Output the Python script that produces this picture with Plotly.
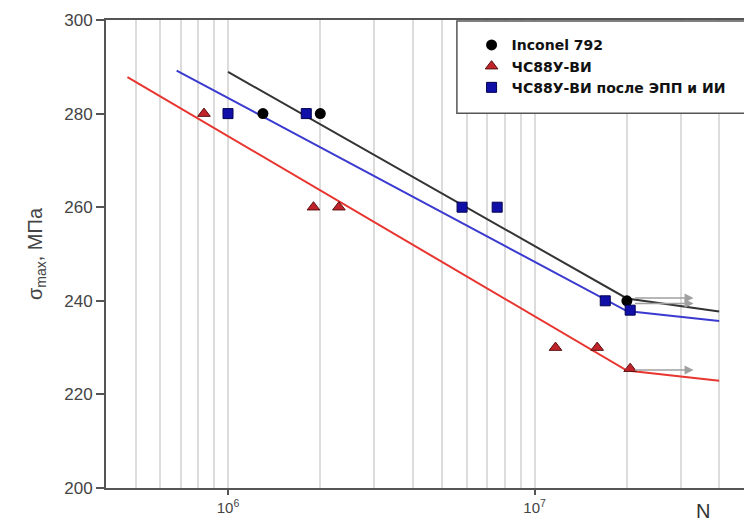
import numpy as np
import plotly.graph_objects as go

# ---- data ----
inconel_N = [1.3e6, 2.0e6, 2.0e7]
inconel_s = [280, 280, 240]

chs_N = [8.35e5, 1.9e6, 2.3e6, 1.17e7, 1.6e7, 2.05e7]
chs_s = [280, 260, 260, 230, 230, 225.5]

chs_epp_N = [1.0e6, 1.8e6, 5.8e6, 7.55e6, 1.7e7, 2.05e7]
chs_epp_s = [280, 280, 260, 260, 240, 238]

fit_black_N = [1.0e6, 2.0e7, 4.0e7]
fit_black_s = [288.9, 240.5, 237.7]
fit_blue_N = [6.8e5, 2.0e7, 4.0e7]
fit_blue_s = [289.2, 237.8, 235.7]
fit_red_N = [4.7e5, 2.0e7, 4.0e7]
fit_red_s = [287.8, 225.1, 222.9]

runout_N = [2.1e7, 2.1e7, 2.1e7]
runout_end_N = [3.3e7, 3.3e7, 3.3e7]
runout_s = [240.6, 239.4, 225.2]

x_ticks = [1e6, 1e7]
x_ticktext = ["10<sup>6</sup>", "10<sup>7</sup>"]
y_ticks = [200, 220, 240, 260, 280, 300]

names = ["Inconel 792", "ЧС88У-ВИ", "ЧС88У-ВИ после ЭПП и ИИ"]

fig = go.Figure()

# fit lines
fig.add_trace(go.Scatter(x=fit_red_N, y=fit_red_s, mode="lines",
                         line=dict(color="#e8352f", width=2), showlegend=False, hoverinfo="skip"))
fig.add_trace(go.Scatter(x=fit_blue_N, y=fit_blue_s, mode="lines",
                         line=dict(color="#3a3ad0", width=2), showlegend=False, hoverinfo="skip"))
fig.add_trace(go.Scatter(x=fit_black_N, y=fit_black_s, mode="lines",
                         line=dict(color="#333333", width=2), showlegend=False, hoverinfo="skip"))

# markers
fig.add_trace(go.Scatter(x=inconel_N, y=inconel_s, mode="markers", name=names[0],
                         marker=dict(symbol="circle", size=11, color="#000000"), legendgroup="a"))
fig.add_trace(go.Scatter(x=chs_N, y=chs_s, mode="markers", name=names[1],
                         marker=dict(symbol="triangle-up", size=11, color="#c0242a",
                                     line=dict(color="#5a1010", width=1)), legendgroup="b"))
fig.add_trace(go.Scatter(x=chs_epp_N, y=chs_epp_s, mode="markers", name=names[2],
                         marker=dict(symbol="square", size=10, color="#1010a8",
                                     line=dict(color="#000050", width=1)), legendgroup="c"))

# run-out arrows
for n0, n1, s in zip(runout_N, runout_end_N, runout_s):
    fig.add_annotation(x=np.log10(n1), y=s, ax=np.log10(n0), ay=s,
                       xref="x", yref="y", axref="x", ayref="y",
                       showarrow=True, arrowhead=2, arrowsize=1.2, arrowwidth=1.5,
                       arrowcolor="#a0a0a0", text="")

# legend box
fig.add_shape(type="rect", xref="paper", yref="paper", x0=0.55, x1=1.1,
              y0=0.801, y1=0.998, line=dict(color="#555555", width=1.5),
              fillcolor="white", layer="above")

fig.add_annotation(xref="paper", yref="paper", x=0.935, y=-0.049, text="N",
                   showarrow=False, font=dict(size=20, color="#333333",
                                              family="Liberation Sans"),
                   xanchor="center", yanchor="middle")

fig.update_layout(
    width=744, height=522,
    margin=dict(l=106, r=0, t=20, b=34),
    paper_bgcolor="white", plot_bgcolor="white",
    font=dict(family="Liberation Sans, Arial", color="#444444"),
    showlegend=True,
    legend=dict(x=0.573, y=0.98, xanchor="left", yanchor="top",
                bgcolor="rgba(0,0,0,0)", borderwidth=0,
                font=dict(family="DejaVu Sans", size=14, color="#111111", weight="bold"),
                traceorder="grouped", tracegroupgap=0),
    xaxis=dict(type="log", range=[np.log10(4e5), 7.683],
               tickvals=x_ticks, ticktext=x_ticktext,
               ticks="outside", ticklen=5, tickcolor="#555555", tickwidth=1.5,
               showgrid=True, gridcolor="#dcdcdc", gridwidth=1.5,
               minor=dict(dtick="D1", showgrid=True, gridcolor="#dcdcdc", gridwidth=1.5, ticks=""),
               showline=True, linecolor="#555555", linewidth=2, mirror=True,
               tickfont=dict(size=15, color="#444444"), zeroline=False),
    yaxis=dict(range=[200, 300], tickvals=y_ticks,
               ticks="outside", ticklen=8, tickcolor="#555555", tickwidth=1.5,
               showgrid=False, showline=True, linecolor="#555555", linewidth=2,
               tickfont=dict(size=17, color="#444444"), zeroline=False,
               title=dict(text="σ<sub>max</sub>, МПа", font=dict(size=20, color="#444444"),
                          standoff=16)),
)

fig.write_html("out.html")
